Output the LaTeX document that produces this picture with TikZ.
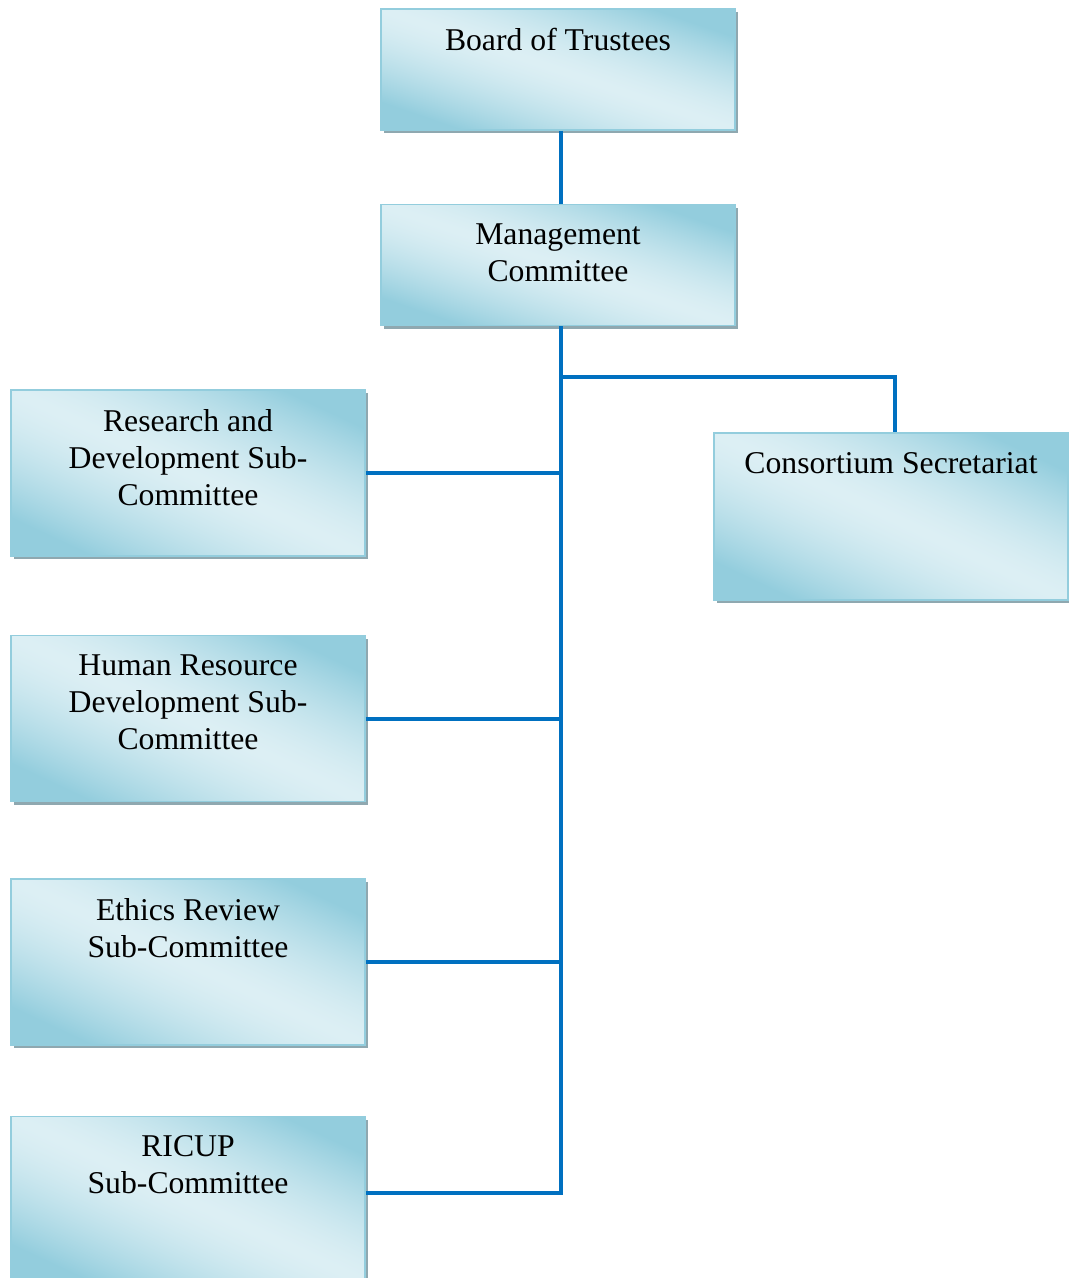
\documentclass[tikz,border=0pt]{standalone}
\usepackage{fontspec}
\setmainfont{Liberation Serif}
\usetikzlibrary{positioning}

\definecolor{boxdark}{RGB}{147,205,221}
\definecolor{boxshadow}{RGB}{143,168,176}
\definecolor{linkblue}{RGB}{0,112,192}

% light band along the falling diagonal, dark towards top right and bottom left
\pgfdeclarefunctionalshading{boxshade}{\pgfpoint{-50bp}{-50bp}}{\pgfpoint{50bp}{50bp}}{}{
    add 50 div abs 1.3 mul dup 1 gt {pop 1} if dup sqrt mul
    dup -0.287 mul 0.863 add exch
    dup -0.133 mul 0.937 add exch
    -0.090 mul 0.957 add}

\begin{document}
\begin{tikzpicture}[
    x=1pt, y=-1pt,
    node distance=73pt and 40pt,
    orgbox/.style={rectangle, draw=boxdark, line width=1.5pt, inner sep=0pt,
        minimum width=354pt, minimum height=166pt,
        shading=boxshade,
        preaction={fill=boxshadow, transform canvas={shift={(3pt,-3pt)}}}},
    orgtext/.style={anchor=north, align=center, inner sep=0pt, yshift=-20pt,
        font=\fontsize{31.7}{37}\selectfont},
    link/.style={draw=linkblue, line width=4pt}
]
\useasboundingbox (0,0) rectangle (1069,1278);

% Top nodes
\node[orgbox, minimum height=121pt] (board) at (558,69.5) {};
\node[orgbox, minimum height=121pt, below=of board] (mgmt) {};

% Sub-committees
\node[orgbox] (rd) at (188,473) {};
\node[orgbox, below=78pt of rd] (hr) {};
\node[orgbox, below=76pt of hr] (ethics) {};
\node[orgbox, below=70pt of ethics] (ricup) {};

% Secretariat
\node[orgbox, minimum height=167pt] (sec) at (891,516.5) {};

% Texts
\node[orgtext] (boardtxt) at (board.north) {Board of Trustees};
\node[orgtext] (mgmttxt) at (mgmt.north) {Management\\Committee};
\node[orgtext] (rdtxt) at (rd.north) {Research and\\Development Sub-\\Committee};
\node[orgtext] (hrtxt) at (hr.north) {Human Resource\\Development Sub-\\Committee};
\node[orgtext] (ethicstxt) at (ethics.north) {Ethics Review\\Sub-Committee};
\node[orgtext] (ricuptxt) at (ricup.north) {RICUP\\Sub-Committee};
\node[orgtext] (sectxt) at (sec.north) {Consortium Secretariat};

% Connectors
\coordinate (top) at ([xshift=3pt]mgmt.south);
\coordinate (split) at ([yshift=-51pt]top);
\coordinate (rdend) at (rd.east -| top);
\coordinate (hrend) at (hr.east -| top);
\coordinate (ethicsend) at (ethics.east -| top);
\coordinate (ricupend) at ([yshift=7pt]ricup.east -| top);

\draw[link] ([xshift=3pt]board.south) -- ([xshift=3pt]mgmt.north);
\draw[link] (top) -- ([yshift=-2pt]ricupend);
\draw[link] ([xshift=-2pt]split) -| ([xshift=4pt]sec.north);
\draw[link] (rd.east) -- (rdend);
\draw[link] (hr.east) -- (hrend);
\draw[link] (ethics.east) -- (ethicsend);
\draw[link] ([yshift=7pt]ricup.east) -- ([xshift=2pt]ricupend);

\end{tikzpicture}
\end{document}
